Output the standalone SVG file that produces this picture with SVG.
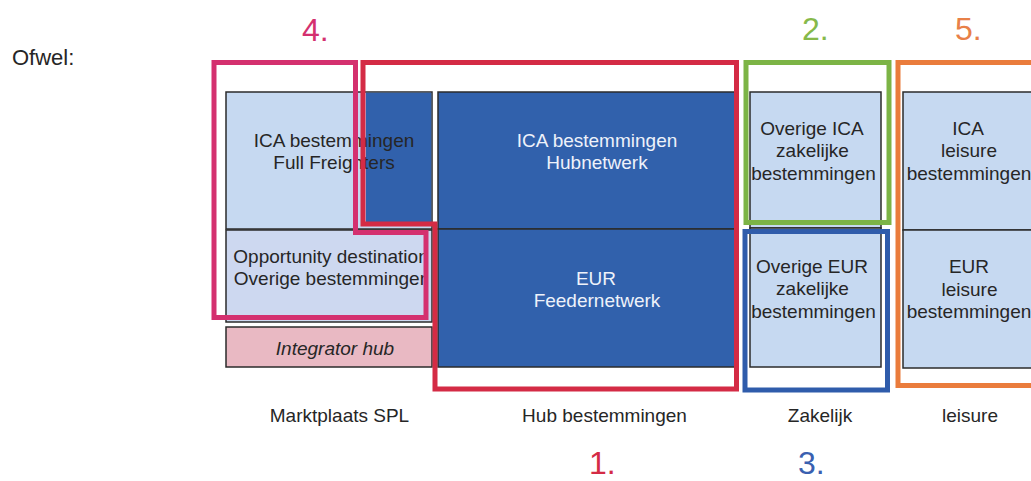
<svg xmlns="http://www.w3.org/2000/svg" width="1031" height="481" viewBox="0 0 1031 481">
  <style>
    text { font-family: "Liberation Sans", Arial, sans-serif; }
    .light { fill: #c6d9f1; stroke: #2b2b2b; stroke-width: 1.5; }
    .dark { fill: #3161ac; stroke: #2b2b2b; stroke-width: 1.5; }
    .pinkbox { fill: #e9b9c3; stroke: #2b2b2b; stroke-width: 1.5; }
    .t { font-size: 19px; fill: #262626; text-anchor: middle; }
    .tw { font-size: 19px; fill: #eef2fa; text-anchor: middle; }
    .lbl { font-size: 19px; fill: #262626; text-anchor: middle; }
    .num { font-size: 32px; }
    .hl { fill: none; stroke-width: 5; stroke-linejoin: miter; }
  </style>
  <defs>
    <clipPath id="c1"><rect x="226" y="230" width="198" height="92"/></clipPath>
    <clipPath id="cright"><rect x="0" y="0" width="1031" height="481"/></clipPath>
  </defs>
  <rect x="0" y="0" width="1031" height="481" fill="#ffffff"/>

  <text x="12" y="65" style="font-size:22px;fill:#262626">Ofwel:</text>

  <g id="marktplaats">
    <g id="ica-full-freighters">
      <rect class="light" x="226" y="92" width="206" height="137"/>
      <rect x="366" y="92.75" width="65.25" height="133" fill="#3161ac"/>
      <text class="t" x="334" y="147">ICA bestemmingen</text>
      <text class="t" x="334" y="169">Full Freighters</text>
    </g>
    <g id="opportunity">
      <rect class="light" x="226" y="230" width="206" height="92" style="fill:#cdd8f0"/>
      <g clip-path="url(#c1)">
        <text class="t" x="331" y="263">Opportunity destination</text>
        <text class="t" x="332" y="285">Overige bestemmingen</text>
      </g>
    </g>
    <g id="integrator">
      <rect class="pinkbox" x="226" y="327" width="206" height="40"/>
      <text class="t" x="335" y="355" font-style="italic">Integrator hub</text>
    </g>
  </g>

  <g id="hub">
    <g id="ica-hubnetwerk">
      <rect class="dark" x="438" y="92" width="298" height="137"/>
      <text class="tw" x="597" y="147">ICA bestemmingen</text>
      <text class="tw" x="597" y="169">Hubnetwerk</text>
    </g>
    <g id="eur-feedernetwerk">
      <rect class="dark" x="438" y="229" width="298" height="138"/>
      <text class="tw" x="596" y="285">EUR</text>
      <text class="tw" x="597" y="307">Feedernetwerk</text>
    </g>
  </g>

  <g id="zakelijk">
    <g id="overige-ica">
      <rect class="light" x="750" y="92" width="131" height="136"/>
      <text class="t" x="812" y="135">Overige ICA</text>
      <text class="t" x="812.5" y="157">zakelijke</text>
      <text class="t" x="813.5" y="180">bestemmingen</text>
    </g>
    <g id="overige-eur">
      <rect class="light" x="750" y="228" width="131" height="139"/>
      <text class="t" x="812" y="273">Overige EUR</text>
      <text class="t" x="812.5" y="295">zakelijke</text>
      <text class="t" x="813.5" y="318">bestemmingen</text>
    </g>
  </g>

  <g id="leisure" clip-path="url(#cright)">
    <g id="ica-leisure">
      <rect class="light" x="903" y="92" width="140" height="138"/>
      <text class="t" x="968" y="135">ICA</text>
      <text class="t" x="969" y="157">leisure</text>
      <text class="t" x="969" y="180">bestemmingen</text>
    </g>
    <g id="eur-leisure">
      <rect class="light" x="903" y="230" width="140" height="138"/>
      <text class="t" x="969" y="273">EUR</text>
      <text class="t" x="969.5" y="296">leisure</text>
      <text class="t" x="969" y="318">bestemmingen</text>
    </g>
  </g>

  <g id="highlights">
    <path id="group-1" class="hl" stroke="#d42b45" d="M363,62.5 H736.5 V389 H435 V224 H363 Z"/>
    <path id="group-4" class="hl" stroke="#d4306f" d="M214,62.5 H355.5 V232.5 H426 V317.5 H214 Z"/>
    <rect id="group-2" class="hl" stroke="#7cb446" x="746" y="62.5" width="143" height="160"/>
    <rect id="group-3" class="hl" stroke="#2f5cab" x="745" y="231.5" width="142.5" height="158.5"/>
    <rect id="group-5" class="hl" stroke="#ea7c3c" x="898" y="62.5" width="160" height="323"/>
  </g>

  <g id="connectors"/>

  <g id="numbers">
    <text class="num" x="302" y="41" fill="#d4306f">4.</text>
    <text class="num" x="802" y="40" fill="#86b94a">2.</text>
    <text class="num" x="955" y="40" fill="#e88048">5.</text>
    <text class="num" x="589" y="474" fill="#d42b45">1.</text>
    <text class="num" x="798" y="474" fill="#3a60b0">3.</text>
  </g>

  <g id="labels">
    <text class="lbl" x="339.5" y="422">Marktplaats SPL</text>
    <text class="lbl" x="604.5" y="422">Hub bestemmingen</text>
    <text class="lbl" x="820" y="422">Zakelijk</text>
    <text class="lbl" x="970" y="422">leisure</text>
  </g>
</svg>
